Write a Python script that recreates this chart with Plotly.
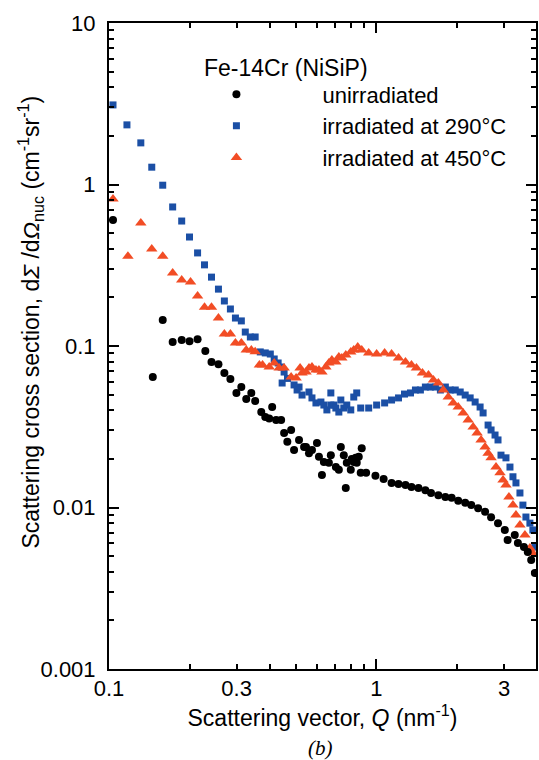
import plotly.graph_objects as go
import math

# ---- data (Q in nm^-1, dSigma/dOmega in cm^-1 sr^-1) ----
q_unirr = [0.1035, 0.1458, 0.1588, 0.173, 0.187, 0.2, 0.2144, 0.2292, 0.2417, 0.2566,
           0.27, 0.2844, 0.2995, 0.3125, 0.326, 0.3405, 0.352, 0.371, 0.384, 0.3972,
           0.4075, 0.4216, 0.4402, 0.4516, 0.4643, 0.4797, 0.492, 0.5135, 0.5363, 0.5454,
           0.5595, 0.574, 0.5992, 0.6095, 0.6254, 0.636, 0.664, 0.6753, 0.7051, 0.7234,
           0.7359, 0.755, 0.768, 0.7746, 0.8017, 0.8087, 0.8226, 0.8365, 0.8439, 0.8588,
           0.8734, 0.881, 0.915, 0.9913, 1.0638, 1.139, 1.2094, 1.284, 1.352, 1.436,
           1.524, 1.6, 1.704, 1.81, 1.91, 2.022, 2.147, 2.262, 2.4, 2.548,
           2.683, 2.848, 3.02, 3.094, 3.29, 3.38, 3.56, 3.68, 3.79, 3.911]
i_unirr = [0.603, 0.0643, 0.145, 0.106, 0.109, 0.107, 0.110, 0.093, 0.0796, 0.077,
           0.068, 0.0625, 0.0512, 0.0557, 0.047, 0.0512, 0.0456, 0.039, 0.0363, 0.0356,
           0.0419, 0.0348, 0.0348, 0.0289, 0.0255, 0.0302, 0.0227, 0.0262, 0.0237, 0.0237,
           0.0217, 0.0227, 0.0251, 0.0206, 0.0159, 0.0191, 0.0189, 0.0211, 0.0178, 0.0171,
           0.0237, 0.0211, 0.0132, 0.0189, 0.0171, 0.0200, 0.0191, 0.0203, 0.0189, 0.0206,
           0.0164, 0.0233, 0.0164, 0.0157, 0.0150, 0.0142, 0.0140, 0.0138, 0.0134, 0.0132,
           0.0128, 0.0123, 0.0119, 0.0116, 0.0115, 0.0110, 0.0107, 0.01035, 0.0099, 0.0094,
           0.0087, 0.0080, 0.00726, 0.0063, 0.00676, 0.00603, 0.00569, 0.0053, 0.00473, 0.00393]

q_290 = [0.1035, 0.1167, 0.1315, 0.1445, 0.1588, 0.173, 0.187, 0.2, 0.2144, 0.2276,
         0.2417, 0.2566, 0.27, 0.2844, 0.297, 0.3125, 0.3233, 0.3377, 0.352, 0.3678,
         0.384, 0.401, 0.4147, 0.429, 0.4402, 0.4516, 0.465, 0.444, 0.492, 0.5135,
         0.505, 0.527, 0.5595, 0.574, 0.594, 0.62, 0.636, 0.6527, 0.6753, 0.6753,
         0.693, 0.7051, 0.7234, 0.7359, 0.755, 0.7746, 0.8017, 0.8226, 0.8439, 0.8734,
         0.9354, 1.0017, 1.073, 1.139, 1.2094, 1.273, 1.341, 1.399, 1.46, 1.524,
         1.591, 1.661, 1.734, 1.81, 1.888, 1.971, 2.057, 2.147, 2.241, 2.339,
         2.441, 2.505, 2.615, 2.683, 2.776, 2.848, 2.922, 3.05, 3.157, 3.239,
         3.324, 3.44, 3.529, 3.622, 3.748, 3.845, 3.911]
i_290 = [3.11, 2.34, 1.81, 1.28, 0.99, 0.726, 0.594, 0.473, 0.377, 0.318,
         0.267, 0.225, 0.19, 0.1695, 0.149, 0.143, 0.122, 0.1137, 0.1137, 0.0919,
         0.0906, 0.0892, 0.0831, 0.0785, 0.0741, 0.069, 0.063, 0.059, 0.0574, 0.0557,
         0.0534, 0.0497, 0.0519, 0.0477, 0.0444, 0.045, 0.0431, 0.0402, 0.0512, 0.0431,
         0.0431, 0.0413, 0.039, 0.0463, 0.0413, 0.0431, 0.0402, 0.0483, 0.0512, 0.0413,
         0.0413, 0.0431, 0.0444, 0.0463, 0.0477, 0.0504, 0.0512, 0.0534, 0.0534, 0.0557,
         0.0557, 0.0557, 0.0534, 0.0557, 0.0534, 0.0534, 0.0519, 0.0497, 0.0477, 0.045,
         0.0419, 0.0385, 0.0324, 0.0302, 0.0281, 0.0262, 0.0211, 0.0203, 0.0178, 0.0155,
         0.0142, 0.0123, 0.01035, 0.00873, 0.008, 0.00726, 0.00569]

q_450 = [0.1035, 0.1177, 0.1315, 0.1445, 0.1588, 0.173, 0.187, 0.2018, 0.2144, 0.2276,
         0.2417, 0.2566, 0.27, 0.2844, 0.297, 0.3125, 0.326, 0.3405, 0.352, 0.365,
         0.375, 0.3972, 0.4147, 0.4328, 0.4516, 0.4797, 0.5007, 0.5182, 0.527, 0.5454,
         0.5595, 0.574, 0.594, 0.6095, 0.6254, 0.6471, 0.664, 0.6812, 0.7051, 0.7234,
         0.7422, 0.768, 0.8017, 0.8226, 0.8513, 0.881, 0.9354, 1.0017, 1.073, 1.139,
         1.2094, 1.284, 1.352, 1.411, 1.486, 1.565, 1.633, 1.704, 1.778, 1.856,
         1.937, 2.022, 2.11, 2.203, 2.299, 2.379, 2.462, 2.548, 2.615, 2.683,
         2.8, 2.898, 2.974, 3.05, 3.129, 3.239, 3.324, 3.44, 3.591, 3.748, 3.845]
i_450 = [0.813, 0.36, 0.578, 0.399, 0.36, 0.283, 0.256, 0.249, 0.204, 0.174,
         0.174, 0.149, 0.1185, 0.1185, 0.1044, 0.1044, 0.0945, 0.0945, 0.092, 0.0762,
         0.0762, 0.0741, 0.0785, 0.0731, 0.0731, 0.0643, 0.0633, 0.0731, 0.068, 0.069,
         0.0731, 0.0741, 0.071, 0.071, 0.069, 0.0741, 0.0785, 0.0819, 0.0796, 0.0855,
         0.0843, 0.088, 0.0919, 0.0945, 0.0986, 0.0945, 0.0906, 0.0892, 0.0906, 0.0892,
         0.0843, 0.0796, 0.0762, 0.0731, 0.068, 0.0661, 0.0615, 0.059, 0.0534, 0.0483,
         0.0444, 0.0419, 0.0385, 0.0348, 0.0315, 0.0289, 0.0262, 0.0237, 0.0217, 0.0203,
         0.0178, 0.0164, 0.0148, 0.0138, 0.0116, 0.01035, 0.009, 0.0078, 0.00676, 0.00561, 0.00522]

series_names = ["unirradiated", "irradiated at 290°C", "irradiated at 450°C"]
x_tick_vals = [0.1, 0.3, 1, 3]
x_tick_text = ["0.1", "0.3", "1", "3"]
y_tick_vals = [0.001, 0.01, 0.1, 1, 10]
y_tick_text = ["0.001", "0.01", "0.1", "1", "10"]

FONT = "Liberation Sans, Arial, sans-serif"
BLUE = "#1b4fa5"
RED = "#f24d25"

fig = go.Figure()
# the unirradiated series is drawn on the labelled overlay x axis (same range as x)
fig.add_trace(go.Scatter(x=q_unirr, y=i_unirr, mode="markers", name=series_names[0],
                         xaxis="x2", yaxis="y",
                         marker=dict(symbol="circle", size=8, color="black")))
fig.add_trace(go.Scatter(x=q_290, y=i_290, mode="markers", name=series_names[1],
                         marker=dict(symbol="square", size=7, color=BLUE)))
fig.add_trace(go.Scatter(x=q_450, y=i_450, mode="markers", name=series_names[2],
                         marker=dict(symbol="triangle-up", size=10, color=RED)))

xr = [-1, math.log10(3.95)]
yr = [-3, 1]

fig.update_layout(
    width=539, height=760,
    margin=dict(l=109, r=1, t=23, b=91),
    paper_bgcolor="white", plot_bgcolor="white",
    font=dict(family=FONT, size=22, color="black"),
    showlegend=True,
    legend=dict(x=0.097, y=0.922, xanchor="left", yanchor="top",
                bgcolor="rgba(0,0,0,0)", itemwidth=162, tracegroupgap=0,
                font=dict(family=FONT, size=22, color="black")),
    xaxis=dict(type="log", range=xr, showline=True, linewidth=2, linecolor="black",
               mirror="ticks", ticks="inside", ticklen=10, tickwidth=2, tickcolor="black",
               tickvals=[0.1, 1, 10], showticklabels=False, showgrid=False, zeroline=False,
               minor=dict(ticks="inside", ticklen=5, tickwidth=1.5, tickcolor="black",
                          dtick="D1", showgrid=False)),
    xaxis2=dict(type="log", range=xr, overlaying="x", anchor="y", side="bottom",
                showline=False, showgrid=False, zeroline=False, ticks="",
                tickvals=x_tick_vals, ticktext=x_tick_text,
                tickfont=dict(family=FONT, size=22), ticklabelstandoff=4,
                title=dict(text="Scattering vector, <i>Q</i> (nm<sup>-1</sup>)",
                           font=dict(family=FONT, size=23), standoff=8)),
    yaxis=dict(type="log", range=yr, showline=True, linewidth=2, linecolor="black",
               mirror="ticks", ticks="inside", ticklen=10, tickwidth=2, tickcolor="black",
               tickvals=y_tick_vals, ticktext=y_tick_text, showgrid=False, zeroline=False,
               tickfont=dict(family=FONT, size=22), ticklabelstandoff=7,
               minor=dict(ticks="inside", ticklen=5, tickwidth=1.5, tickcolor="black",
                          dtick="D1", showgrid=False)),
    annotations=[
        dict(text="Scattering cross section, d<i>Σ</i> /d<i>Ω</i><sub>nuc</sub> (cm<sup>-1</sup>sr<sup>-1</sup>)",
             xref="paper", yref="paper", x=-0.184, y=0.537, textangle=-90,
             showarrow=False, xanchor="center", yanchor="middle",
             font=dict(family=FONT, size=23)),
        dict(text="Fe-14Cr (NiSiP)", xref="paper", yref="paper", x=0.2168, y=0.930,
             xanchor="left", yanchor="middle", showarrow=False,
             font=dict(family=FONT, size=23)),
        dict(text="<i>(b)</i>", xref="paper", yref="paper", x=0.496, y=-0.122,
             xanchor="center", yanchor="middle", showarrow=False,
             font=dict(family="Liberation Serif, Times New Roman, serif", size=21)),
    ],
)

fig.write_html("out.html")
